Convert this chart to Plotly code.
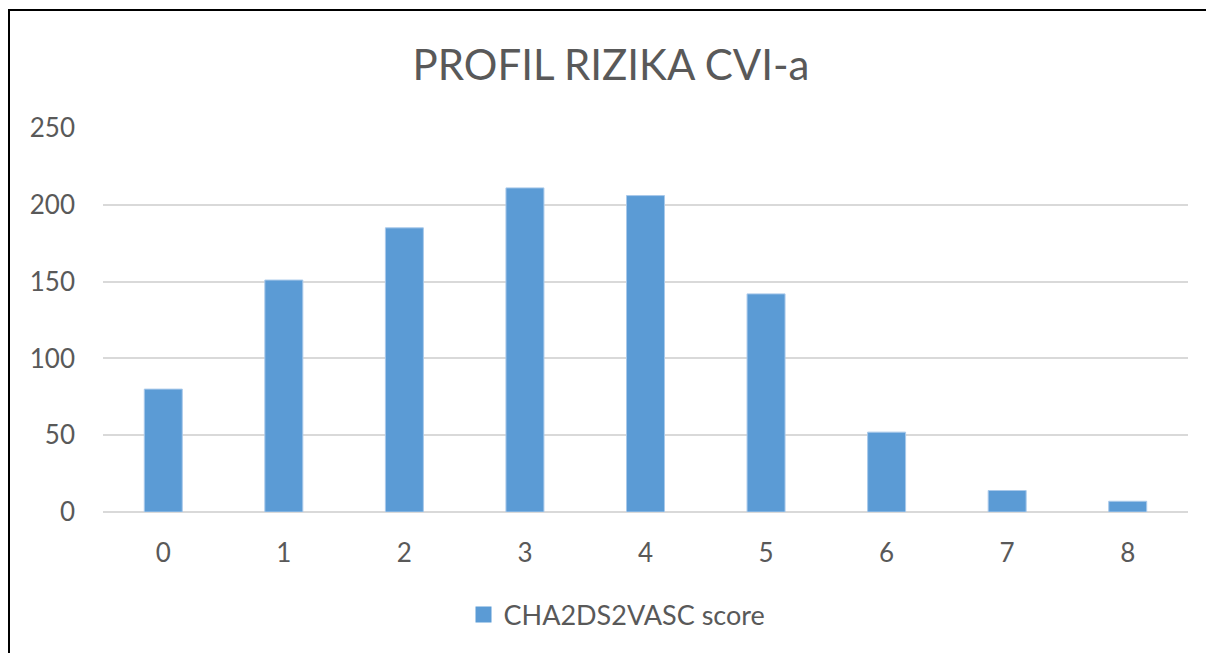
import plotly.graph_objects as go

categories = ["0", "1", "2", "3", "4", "5", "6", "7", "8"]
values = [80, 151, 185, 211, 206, 142, 52, 14, 7]
series_name = "CHA2DS2VASC score"
title_text = "PROFIL RIZIKA CVI-a"
y_ticks = [0, 50, 100, 150, 200, 250]

# page has an 8px body margin; figure coordinates = page coordinates - 8
OFF = 8
W, H = 1214 - OFF, 653 - OFF
L, R, T, B = 103 - OFF, 1214 - 1188, 128 - OFF, 653 - 512
pw, ph = W - L - R, H - T - B

def px_x(x):  # page pixel -> paper
    return (x - OFF - L) / pw

def px_y(y):
    return (H - B - (y - OFF)) / ph

font_family = "Lato, 'Open Sans', sans-serif"
text_color = "#595959"
bar_color = "#5B9BD5"

fig = go.Figure()
fig.add_trace(go.Bar(
    x=categories, y=values, name=series_name,
    marker=dict(color=bar_color, line=dict(color="#a9c9ea", width=1)),
    showlegend=False,
))
fig.add_trace(go.Scatter(
    x=[None], y=[None], mode="markers", name=series_name,
    marker=dict(symbol="square", size=18, color=bar_color),
    showlegend=True,
))

border = dict(color="black", width=2)
fig.update_layout(
    width=W, height=H,
    margin=dict(l=L, r=R, t=T, b=B),
    paper_bgcolor="white", plot_bgcolor="white",
    font=dict(family=font_family, color=text_color, size=26),
    title=dict(text=title_text, x=(611 - OFF) / W, xanchor="center",
               y=1 - (65 - OFF) / H, yanchor="middle",
               font=dict(size=42, color=text_color, family=font_family)),
    bargap=0.685,
    xaxis=dict(type="category", showgrid=False, showline=False, ticks="",
               tickfont=dict(size=26, color=text_color), ticklabelstandoff=23),
    yaxis=dict(range=[0, 250], tickvals=y_ticks, showgrid=True,
               gridcolor="#d9d9d9", gridwidth=1.5, zeroline=True,
               zerolinecolor="#d9d9d9", zerolinewidth=1.5, showline=False,
               ticks="", tickfont=dict(size=26, color=text_color),
               ticklabelstandoff=27),
    legend=dict(orientation="h", x=px_x(617), xanchor="center",
                y=px_y(615), yanchor="middle",
                font=dict(size=27, color=text_color), itemwidth=30),
    shapes=[
        dict(type="line", xref="paper", yref="paper",
             x0=px_x(9), x1=px_x(9), y0=px_y(680), y1=px_y(10), line=border),
        dict(type="line", xref="paper", yref="paper",
             x0=px_x(8), x1=px_x(1240), y0=px_y(10), y1=px_y(10), line=border),
    ],
)

fig.write_html("out.html", config={"displayModeBar": False})
